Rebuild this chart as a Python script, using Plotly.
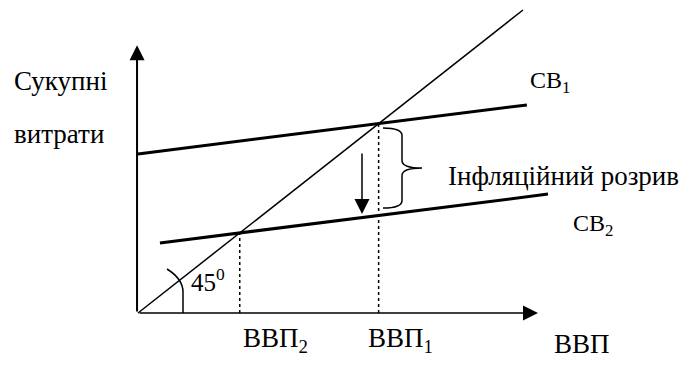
import plotly.graph_objects as go

# ---- model data (schematic Keynesian cross) ----
diag_x = [0, 100]                 # 45-degree line Y = X
cb_names = ["СВ<sub>1</sub>", "СВ<sub>2</sub>"]
cb_intercepts = [52.5, 22.2]      # autonomous spending of CB1, CB2
cb_slope = 0.16                   # marginal propensity
cb_x_start = [0.0, 5.7]
cb_x_end = [101.0, 106.5]
gdp_labels = ["ВВП<sub>1</sub>", "ВВП<sub>2</sub>"]
y_axis_top = 88.4
x_axis_end = 103.9

# ---- pixel mapping helpers (figure is 683x367, plot area = whole figure) ----
W, H = 683, 367
OX, OY = 138, 313            # origin pixel
SX, SY = 3.85, 3.03          # pixels per unit
xr = [-OX / SX, (W - OX) / SX]
yr = [-(H - OY) / SY, OY / SY]

def px(x, y):
    return (x - OX) / SX, (OY - y) / SY

# equilibrium points
eq_x = [a / (1 - cb_slope) for a in cb_intercepts]
eq_y = eq_x[:]

fig = go.Figure()
line_black = "#000000"

# 45 degree line
fig.add_trace(go.Scatter(x=diag_x, y=diag_x, mode="lines",
                         line=dict(color=line_black, width=1.5), hoverinfo="skip"))
# CB lines
for a, x0, x1 in zip(cb_intercepts, cb_x_start, cb_x_end):
    fig.add_trace(go.Scatter(x=[x0, x1], y=[a + cb_slope * x0, a + cb_slope * x1],
                             mode="lines", line=dict(color=line_black, width=3),
                             hoverinfo="skip"))
# dotted verticals
for ex, ey in zip(eq_x, eq_y):
    fig.add_trace(go.Scatter(x=[ex, ex], y=[0, ey], mode="lines",
                             line=dict(color=line_black, width=1.5, dash="dot"),
                             hoverinfo="skip"))

ann = []
# axes arrows
ann.append(dict(x=-0.25, y=y_axis_top, ax=-0.25, ay=0, xref="x", yref="y",
                axref="x", ayref="y", showarrow=True, arrowhead=2, arrowsize=1.5,
                arrowwidth=2, arrowcolor=line_black, text=""))
ann.append(dict(x=x_axis_end, y=0, ax=0, ay=0, xref="x", yref="y",
                axref="x", ayref="y", showarrow=True, arrowhead=2, arrowsize=2,
                arrowwidth=1.5, arrowcolor=line_black, text=""))
# downward shift arrow
ax_, ay0 = px(362, 152)
_, ay1 = px(362, 214)
ann.append(dict(x=ax_, y=ay1, ax=ax_, ay=ay0, xref="x", yref="y",
                axref="x", ayref="y", showarrow=True, arrowhead=2, arrowsize=2,
                arrowwidth=1.5, arrowcolor=line_black, text=""))

FONT = dict(family="Liberation Serif", size=27, color="black")

def label(text, left, baseline, size=27):
    x, y = px(left, baseline - size * 0.34)
    ann.append(dict(x=x, y=y, xref="x", yref="y", text=text, showarrow=False,
                    xanchor="left", yanchor="middle",
                    font=dict(FONT, size=size)))

label("Сукупні", 12, 90)
label("витрати", 12, 143)
label(cb_names[0], 528, 90, 24)
label(cb_names[1], 571, 233, 24)
label("Інфляційний розрив", 446, 185)
label(gdp_labels[1], 241, 349)
label(gdp_labels[0], 366, 349)
label("ВВП", 552, 353)
label("45<sup>0</sup>", 189, 288, 25)

shapes = []
# brace
xl, yt = px(383, 128)
xs, _ = px(402, 128)
xt, ym = px(422, 168)
_, yb = px(383, 208)
d = 2.5
brace = (f"M{xl},{yt} Q{xs},{yt} {xs},{yt-d} L{xs},{ym+d} Q{xs},{ym} {xt},{ym} "
         f"Q{xs},{ym} {xs},{ym-d} L{xs},{yb+d} Q{xs},{yb} {xl},{yb}")
shapes.append(dict(type="path", path=brace, xref="x", yref="y",
                   line=dict(color=line_black, width=1.5)))
# angle arc
p0 = px(183, 313); p1 = px(183, 292); pc = px(183, 279); p2 = px(167, 269)
arc = f"M{p0[0]},{p0[1]} L{p1[0]},{p1[1]} Q{pc[0]},{pc[1]} {p2[0]},{p2[1]}"
shapes.append(dict(type="path", path=arc, xref="x", yref="y",
                   line=dict(color=line_black, width=1.5)))

fig.update_layout(
    width=W, height=H, margin=dict(l=0, r=0, t=0, b=0),
    paper_bgcolor="white", plot_bgcolor="white", showlegend=False,
    font=FONT,
    xaxis=dict(range=xr, visible=False, fixedrange=True),
    yaxis=dict(range=yr, visible=False, fixedrange=True),
    annotations=ann, shapes=shapes,
)
fig.write_html("out.html", config={"displayModeBar": False},
               post_script="document.body.style.margin='0';")
